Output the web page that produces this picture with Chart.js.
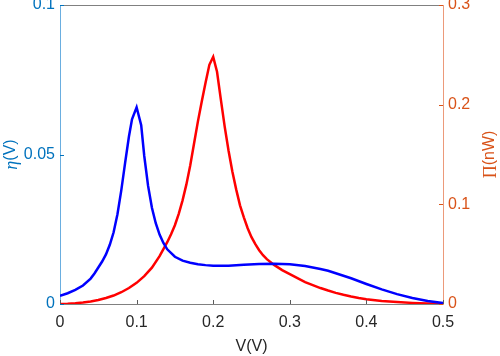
<!DOCTYPE html>
<html><head><meta charset="utf-8">
<script src="https://cdn.jsdelivr.net/npm/chart.js@4.4.1/dist/chart.umd.min.js"></script>
<style>html,body{margin:0;padding:0;background:#fff;overflow:hidden}</style>
</head><body>
<canvas id="c" width="500" height="356"></canvas>
<script>
// ---- data ----
const vEta = [0,0.01,0.02,0.03,0.04,0.045,0.05,0.055,0.06,0.065,0.07,0.075,0.08,0.085,0.09,0.094,0.1,0.106,0.11,0.115,0.12,0.125,0.13,0.135,0.14,0.15,0.16,0.17,0.18,0.19,0.2,0.22,0.24,0.26,0.28,0.3,0.32,0.34,0.35,0.36,0.38,0.4,0.42,0.44,0.46,0.48,0.5];
const eta  = [0.0027,0.0036,0.0047,0.0062,0.0085,0.0102,0.0122,0.0142,0.0166,0.0198,0.0240,0.0300,0.0380,0.0472,0.0560,0.0618,0.0658,0.0598,0.0495,0.0395,0.0322,0.0270,0.0232,0.0204,0.0183,0.0158,0.0145,0.0138,0.0133,0.0130,0.0128,0.0128,0.0131,0.0134,0.0135,0.0133,0.0127,0.0117,0.0111,0.0103,0.0086,0.0067,0.0049,0.0033,0.0020,0.0010,0.0003];
const vPi = [0,0.01,0.02,0.03,0.04,0.05,0.06,0.07,0.08,0.09,0.1,0.11,0.12,0.13,0.135,0.14,0.145,0.15,0.155,0.16,0.165,0.17,0.175,0.18,0.185,0.19,0.195,0.2,0.205,0.21,0.215,0.22,0.225,0.23,0.235,0.24,0.245,0.25,0.255,0.26,0.265,0.27,0.28,0.29,0.3,0.31,0.32,0.33,0.34,0.35,0.36,0.37,0.38,0.39,0.4,0.42,0.44,0.46,0.48,0.5];
const piPower = [0,0.0003,0.0008,0.0015,0.0025,0.0040,0.0060,0.0085,0.0118,0.0160,0.0212,0.0280,0.0365,0.0480,0.0550,0.0620,0.0700,0.0790,0.0905,0.1040,0.1200,0.1390,0.1610,0.1830,0.2030,0.2220,0.2400,0.2480,0.2330,0.2050,0.1780,0.1540,0.1330,0.1150,0.0990,0.0870,0.0760,0.0670,0.0600,0.0540,0.0490,0.0450,0.0390,0.0340,0.0300,0.0260,0.0220,0.0190,0.0160,0.0135,0.0112,0.0092,0.0075,0.0060,0.0048,0.0030,0.0019,0.0011,0.0006,0.0002];
const xRange = [0, 0.5], xStep = 0.1;
const etaRange = [0, 0.1], etaStep = 0.05;
const piRange = [0, 0.3], piStep = 0.1;
const xTitle = 'V(V)';
const etaTitle = ['η', '(V)'];
const piTitle = ['Π', '(nW)'];

const BLUE_AX = '#0072BD', RED_AX = '#D95319';
const fmt = v => String(Math.round(v * 1000) / 1000);
const sans = 'Liberation Sans, Arial, Helvetica, sans-serif';

const decor = {
  id: 'decor',
  afterDraw(chart) {
    const { ctx, chartArea: a, scales } = chart;
    ctx.save();
    ctx.lineWidth = 1;
    ctx.strokeStyle = '#808080';
    ctx.beginPath();
    ctx.moveTo(a.left, Math.round(a.top) + 0.5); ctx.lineTo(a.right, Math.round(a.top) + 0.5);
    ctx.stroke();
    ctx.strokeStyle = '#5a5a5a';
    ctx.beginPath();
    scales.x.ticks.forEach(t => {
      const p = Math.round(scales.x.getPixelForValue(t.value)) + 0.5;
      ctx.moveTo(p, a.bottom); ctx.lineTo(p, a.bottom - 4);
    });
    ctx.stroke();
    ctx.strokeStyle = BLUE_AX;
    ctx.beginPath();
    scales.y.ticks.forEach(t => {
      const p = Math.round(scales.y.getPixelForValue(t.value)) + 0.5;
      ctx.moveTo(a.left, p); ctx.lineTo(a.left + 4, p);
    });
    ctx.stroke();
    ctx.strokeStyle = RED_AX;
    ctx.beginPath();
    scales.y2.ticks.forEach(t => {
      const p = Math.round(scales.y2.getPixelForValue(t.value)) + 0.5;
      ctx.moveTo(a.right, p); ctx.lineTo(a.right - 4, p);
    });
    ctx.stroke();
    const cy = (a.top + a.bottom) / 2;
    function vTitle(x, parts, color) {
      ctx.save();
      ctx.translate(x, cy);
      ctx.rotate(-Math.PI / 2);
      ctx.fillStyle = color;
      ctx.textBaseline = 'middle';
      ctx.textAlign = 'left';
      const f1 = parts[0] === 'η' ? 'italic 18px Liberation Serif, serif' : '18px Liberation Serif, serif';
      const f2 = '16px ' + sans;
      ctx.font = f1; const w1 = ctx.measureText(parts[0]).width;
      ctx.font = f2; const w2 = ctx.measureText(parts[1]).width;
      const x0 = -(w1 + w2) / 2;
      ctx.font = f1; ctx.fillText(parts[0], x0, 1);
      ctx.font = f2; ctx.fillText(parts[1], x0 + w1, 0);
      ctx.restore();
    }
    vTitle(11, etaTitle, BLUE_AX);
    vTitle(490, piTitle, RED_AX);
    ctx.restore();
  }
};

new Chart(document.getElementById('c'), {
  type: 'line',
  data: {
    datasets: [
      { data: vEta.map((x, i) => ({ x, y: eta[i] })), borderColor: '#0000FF', borderWidth: 2.5, pointRadius: 0, tension: 0, yAxisID: 'y', fill: false },
      { data: vPi.map((x, i) => ({ x, y: piPower[i] })), borderColor: '#FF0000', borderWidth: 2.5, pointRadius: 0, tension: 0, yAxisID: 'y2', fill: false }
    ]
  },
  options: {
    responsive: false,
    animation: false,
    devicePixelRatio: 1,
    layout: { padding: { top: 5, left: 0, right: 0, bottom: 0 } },
    plugins: { legend: { display: false }, tooltip: { enabled: false } },
    scales: {
      x: {
        type: 'linear', position: 'bottom', min: xRange[0], max: xRange[1],
        ticks: { stepSize: xStep, color: '#262626', font: { family: sans, size: 16 }, padding: 9, callback: fmt, maxRotation: 0 },
        grid: { display: false, drawTicks: false },
        border: { display: true, color: '#808080', width: 1 },
        title: { display: true, text: xTitle, color: '#262626', font: { family: sans, size: 16 }, padding: { top: 0, bottom: 0 } },
        afterFit(s) { s.height = 52; s.paddingLeft = 0; s.paddingRight = 0; }
      },
      y: {
        type: 'linear', position: 'left', min: etaRange[0], max: etaRange[1],
        ticks: { stepSize: etaStep, color: BLUE_AX, font: { family: sans, size: 16 }, padding: 5, callback: fmt },
        grid: { display: false, drawTicks: false },
        border: { display: true, color: '#6aaee0', width: 1 },
        afterFit(s) { s.width = 60; s.paddingTop = 0; s.paddingBottom = 0; }
      },
      y2: {
        type: 'linear', position: 'right', min: piRange[0], max: piRange[1],
        ticks: { stepSize: piStep, color: RED_AX, font: { family: sans, size: 16 }, padding: 5, callback: fmt },
        grid: { display: false, drawTicks: false },
        border: { display: true, color: '#ec9a7a', width: 1 },
        afterFit(s) { s.width = 57; s.paddingTop = 0; s.paddingBottom = 0; }
      }
    }
  },
  plugins: [decor]
});
</script>
</body></html>
